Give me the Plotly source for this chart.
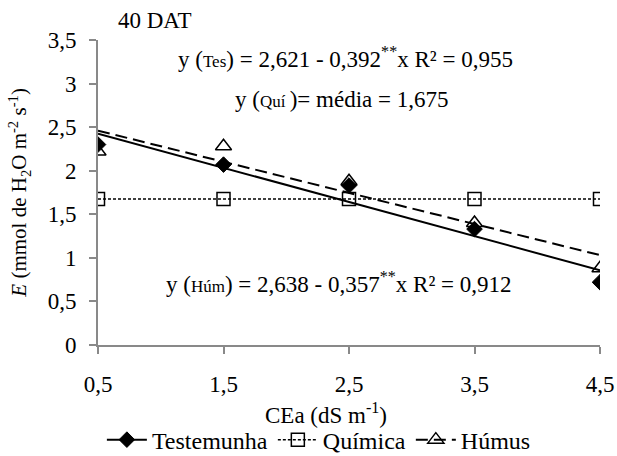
import plotly.graph_objects as go

# Data
cea = [0.5, 1.5, 2.5, 3.5, 4.5]
testemunha = [2.30, 2.07, 1.83, 1.33, 0.72]
quimica = [1.675, 1.675, 1.675, 1.675, 1.675]
humus = [2.22, 2.28, 1.88, 1.40, 0.88]

# Regression coefficients (intercept, slope)
tes_coef = [2.621, -0.392]
qui_coef = [1.675, 0.0]
hum_coef = [2.638, -0.357]

x_ticks = [0.5, 1.5, 2.5, 3.5, 4.5]
x_ticktext = ["0,5", "1,5", "2,5", "3,5", "4,5"]
y_ticks = [0, 0.5, 1, 1.5, 2, 2.5, 3, 3.5]
y_ticktext = ["0", "0,5", "1", "1,5", "2", "2,5", "3", "3,5"]

FONT = "Liberation Serif"
FS = 23
AXC = "#898989"

def fit(coef, xs):
    return [coef[0] + coef[1] * v for v in xs]

xfit = [cea[0], cea[-1]]

fig = go.Figure()

# Trend lines
fig.add_trace(go.Scatter(x=xfit, y=fit(tes_coef, xfit), mode="lines",
                         line=dict(color="black", width=2, dash="solid"),
                         showlegend=False, hoverinfo="skip"))
fig.add_trace(go.Scatter(x=xfit, y=fit(qui_coef, xfit), mode="lines",
                         line=dict(color="black", width=1.5, dash="3px,2px"),
                         showlegend=False, hoverinfo="skip"))
fig.add_trace(go.Scatter(x=xfit, y=fit(hum_coef, xfit), mode="lines",
                         line=dict(color="black", width=2, dash="12px,6px"),
                         showlegend=False, hoverinfo="skip"))

# Data markers
mk_tes = dict(symbol="diamond", size=12, color="black", line=dict(color="black", width=1))
mk_qui = dict(symbol="square-open", size=13, color="black", line=dict(color="black", width=1.5))
mk_hum = dict(symbol="triangle-up-open", size=14, color="black", line=dict(color="black", width=1.5))

fig.add_trace(go.Scatter(x=cea, y=quimica, mode="markers", marker=mk_qui, showlegend=False))
fig.add_trace(go.Scatter(x=cea, y=humus, mode="markers", marker=mk_hum, showlegend=False))
fig.add_trace(go.Scatter(x=cea, y=testemunha, mode="markers", marker=mk_tes, showlegend=False))

# Legend entries
fig.add_trace(go.Scatter(x=[None], y=[None], mode="lines+markers", name="Testemunha",
                         line=dict(color="black", width=2), marker=mk_tes))
fig.add_trace(go.Scatter(x=[None], y=[None], mode="lines+markers", name="Química",
                         line=dict(color="black", width=1.5, dash="3px,2px"), marker=mk_qui))
fig.add_trace(go.Scatter(x=[None], y=[None], mode="lines+markers", name="Húmus",
                         line=dict(color="black", width=2, dash="12px,6px"), marker=mk_hum))

small = "<span style='font-size:17px'>"

annotations = [
    dict(text="40 DAT", x=0.113, y=1.065, xref="paper", yref="paper",
         xanchor="center", yanchor="middle", showarrow=False, font=dict(size=FS)),
    dict(text="y (" + small + "Tes</span>) = 2,621 - 0,392<sup>**</sup>x R² = 0,955",
         x=2.47, y=3.30, xref="x", yref="y", xanchor="center", yanchor="middle",
         showarrow=False, font=dict(size=FS)),
    dict(text="y (" + small + "Quí </span>)= média = 1,675",
         x=2.44, y=2.82, xref="x", yref="y", xanchor="center", yanchor="middle",
         showarrow=False, font=dict(size=FS)),
    dict(text="y (" + small + "Húm</span>) = 2,638 - 0,357<sup>**</sup>x R² = 0,912",
         x=2.42, y=0.72, xref="x", yref="y", xanchor="center", yanchor="middle",
         showarrow=False, font=dict(size=FS)),
    dict(text="<i>E</i> (mmol de H<sub>2</sub>O m<sup>-2</sup> s<sup>-1</sup>)",
         x=-0.157, y=0.5, xref="paper", yref="paper", textangle=-90,
         showarrow=False, font=dict(size=21), xanchor="center", yanchor="middle"),
    dict(text="CEa (dS m<sup>-1</sup>)", x=0.455, y=-0.225, xref="paper", yref="paper",
         showarrow=False, font=dict(size=FS), xanchor="center", yanchor="middle"),
]

fig.update_layout(
    width=617, height=456,
    margin=dict(l=98, r=17, t=40, b=111, pad=0, autoexpand=False),
    paper_bgcolor="white", plot_bgcolor="white",
    font=dict(family=FONT, size=FS, color="black"),
    showlegend=True,
    legend=dict(orientation="h", x=0.44, xanchor="center", yref="container", y=0.035,
                yanchor="middle", font=dict(family=FONT, size=24), itemwidth=40,
                tracegroupgap=0, bgcolor="rgba(0,0,0,0)"),
    annotations=annotations,
    xaxis=dict(range=[0.5, 4.5], tickvals=x_ticks, ticktext=x_ticktext, automargin=False,
               showgrid=False, zeroline=False, showline=True, linecolor=AXC, linewidth=2,
               ticks="outside", ticklen=7, tickcolor=AXC, tickwidth=2,
               tickfont=dict(family=FONT, size=FS), ticklabelstandoff=10),
    yaxis=dict(range=[0, 3.5], tickvals=y_ticks, ticktext=y_ticktext, automargin=False,
               showgrid=False, zeroline=False, showline=True, linecolor=AXC, linewidth=2,
               ticks="outside", ticklen=7, tickcolor=AXC, tickwidth=2,
               tickfont=dict(family=FONT, size=FS), ticklabelstandoff=8),
)

fig.write_html("out.html", config={"displayModeBar": False},
               post_script="document.body.style.margin='0';document.body.style.padding='0';")
